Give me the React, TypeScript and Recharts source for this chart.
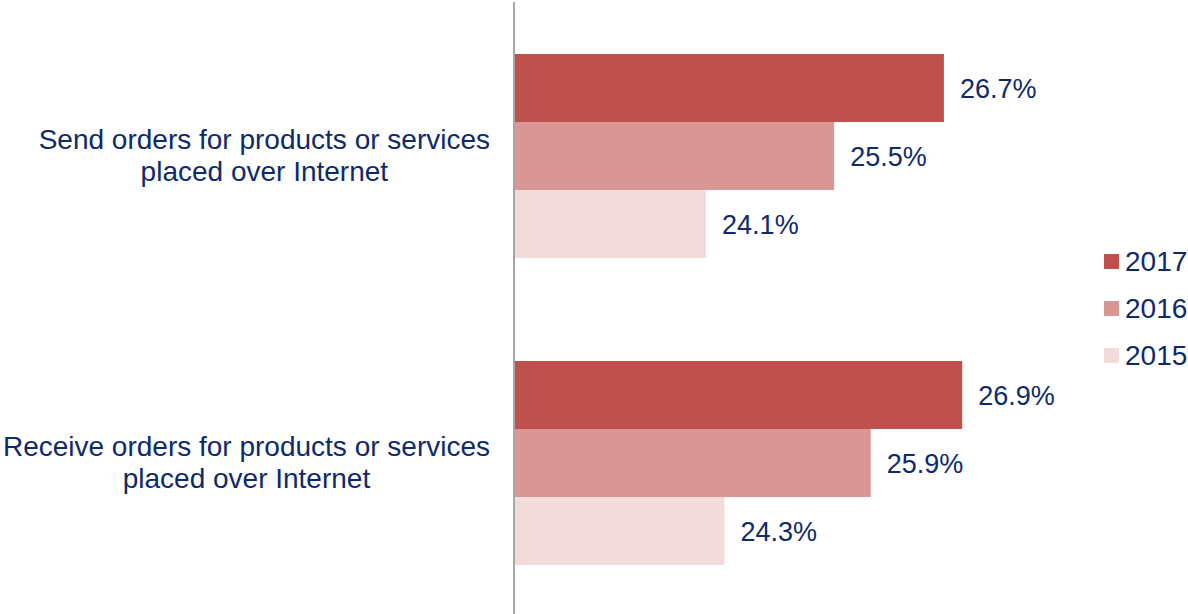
import React from "react";
import { BarChart, Bar, XAxis, YAxis, LabelList, Legend } from "recharts";

const categories = [
  "Send orders for products or services\nplaced over Internet",
  "Receive orders for products or services\nplaced over Internet",
];
const series2017 = [26.7, 26.9];
const series2016 = [25.5, 25.9];
const series2015 = [24.1, 24.3];
const seriesNames = ["2017", "2016", "2015"];
const seriesColors = ["#C0504D", "#D99694", "#F2DCDB"];

const data = categories.map((c, i) => ({
  category: c,
  "2017": series2017[i],
  "2016": series2016[i],
  "2015": series2015[i],
}));

const NAVY = "#0E2A6A";
const FONT = '"Liberation Sans", Arial, sans-serif';
const CAT_SIZE = 28;

function measure(text: string, size: number): number {
  try {
    const canvas = document.createElement("canvas");
    const ctx = canvas.getContext("2d");
    if (!ctx) return text.length * size * 0.5;
    ctx.font = `${size}px ${FONT}`;
    return ctx.measureText(text).width;
  } catch {
    return text.length * size * 0.5;
  }
}

const CategoryTick = (props: any) => {
  const { y, payload } = props;
  const lines: string[] = String(payload.value).split("\n");
  const maxW = Math.max(...lines.map((l) => measure(l, CAT_SIZE)));
  const cx = 490 - maxW / 2;
  return (
    <text
      x={cx}
      y={y - 7}
      textAnchor="middle"
      fill={NAVY}
      fontSize={CAT_SIZE}
      fontFamily={FONT}
    >
      {lines.map((l, i) => (
        <tspan key={i} x={cx} dy={i === 0 ? 0 : 32}>
          {l}
        </tspan>
      ))}
    </text>
  );
};

const LegendContent = () => (
  <div style={{ fontFamily: FONT }}>
    {seriesNames.map((n, i) => (
      <div
        key={n}
        style={{
          display: "flex",
          alignItems: "center",
          height: 47,
        }}
      >
        <div
          style={{
            width: 15,
            height: 15,
            background: seriesColors[i],
            marginRight: 6,
          }}
        />
        <span style={{ fontSize: 28, color: NAVY, lineHeight: "28px" }}>{n}</span>
      </div>
    ))}
  </div>
);

const fmt = (v: any) => `${Number(v).toFixed(1)}%`;

export default function App() {
  return (
    <div style={{ position: "absolute", left: 0, top: 0, width: 1188, height: 614, overflow: "hidden", background: "#fff" }}>
      <BarChart
        width={1188}
        height={616}
        data={data}
        layout="vertical"
        margin={{ top: 2, right: 0, bottom: 0, left: 0 }}
        barGap={0}
      >
        <XAxis type="number" domain={[22, 28.45]} hide />
        <YAxis
          type="category"
          dataKey="category"
          width={514}
          axisLine={{ stroke: "#A6A6A6", strokeWidth: 2 }}
          tickLine={false}
          tick={<CategoryTick />}
          interval={0}
        />
        <Legend
          layout="vertical"
          verticalAlign="top"
          align="right"
          content={<LegendContent />}
          wrapperStyle={{ position: "absolute", top: 238, left: 1104, width: 84 }}
        />
        {seriesNames.map((n, i) => (
          <Bar
            key={n}
            dataKey={n}
            fill={seriesColors[i]}
            barSize={68}
            isAnimationActive={false}
          >
            <LabelList
              dataKey={n}
              position="right"
              offset={16}
              formatter={fmt}
              fill={NAVY}
              fontSize={27}
              fontFamily={FONT}
            />
          </Bar>
        ))}
      </BarChart>
    </div>
  );
}
